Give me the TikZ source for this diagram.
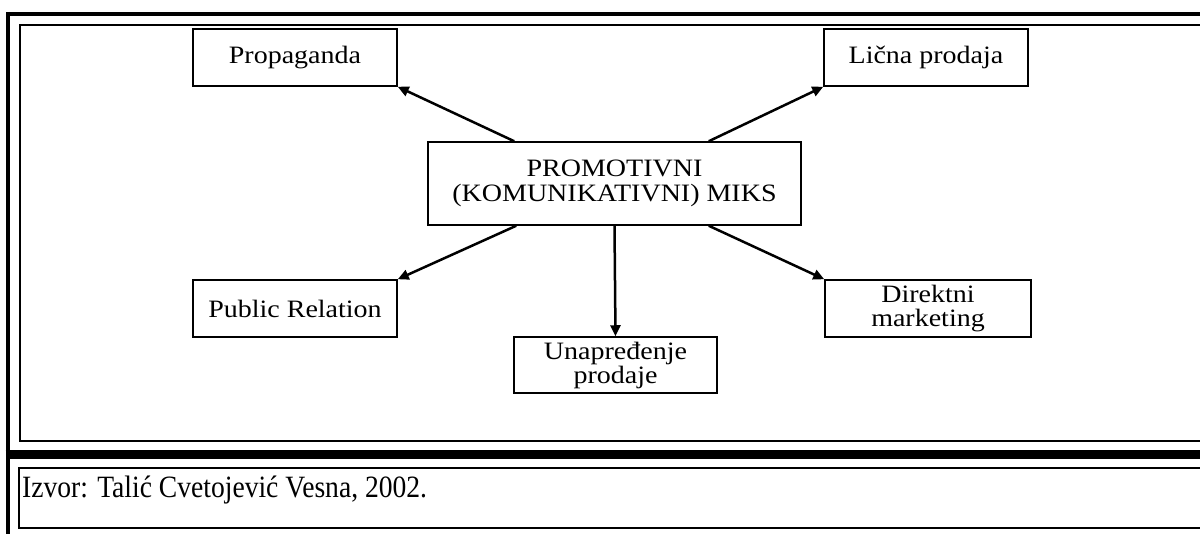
\documentclass[tikz,border=0pt]{standalone}
\usepackage{fontspec}
\setmainfont{Liberation Serif}
\newfontfamily\diagfont[FakeStretch=1.12]{Liberation Serif}
\newfontfamily\izvfont[FakeStretch=0.89]{Liberation Serif}
\usetikzlibrary{arrows.meta}
\begin{document}
\begin{tikzpicture}[x=1pt,y=-1pt,
  boxnode/.style={draw,line width=1.5pt,inner sep=0pt,align=center,
    font=\diagfont\fontsize{25}{24}\selectfont},
  arr/.style={line width=2.5pt,-{Triangle[length=11pt,width=10pt]}},
  thinframe/.style={line width=2pt},
  thickframe/.style={line width=4pt}]
\useasboundingbox (0,0) rectangle (1200,534);
% frame
\draw[thickframe] (6,14) -- (1201,14);
\draw[thickframe] (7.5,12) -- (7.5,535);
\draw[thinframe] (1201,25) -- (19.5,25) -- (19.5,441) -- (1201,441);
\draw[line width=9pt] (5.5,455) -- (1201,455);
\draw[thinframe] (1201,468) -- (19,468) -- (19,527.5) -- (1201,527.5);
% nodes
\node[boxnode,minimum width=204pt,minimum height=57pt] (prop) at (295,57.5) {Propaganda};
\node[boxnode,minimum width=204pt,minimum height=57pt] (licna) at (926,57.5) {Lična prodaja};
\node[boxnode,minimum width=373pt,minimum height=83pt,
  font=\diagfont\fontsize{25}{25}\selectfont] (c) at (614.5,183.5) {PROMOTIVNI\\(KOMUNIKATIVNI) MIKS};
\node[boxnode,minimum width=204pt,minimum height=57pt] (pr) at (295,308.5) {Public Relation};
\node[boxnode,minimum width=203pt,minimum height=56pt] (u) at (615.5,365) {Unapređenje\\prodaje};
\node[boxnode,minimum width=206pt,minimum height=57pt] (d) at (928,308.5) {Direktni\\marketing};
\node[anchor=base west,inner sep=0pt,font=\izvfont\fontsize{31}{34}\selectfont] (izvor) at (22,497) {Izvor: Talić Cvetojević Vesna, 2002.};
% connectors
\draw[arr] ([xshift=87pt]c.north west) -- (prop.south east);
\draw[arr] ([xshift=-93pt]c.north east) -- (licna.south west);
\draw[arr] ([xshift=89pt]c.south west) -- (pr.north east);
\draw[arr] (c.south) -- (u.north);
\draw[arr] ([xshift=-93pt]c.south east) -- (d.north west);
\end{tikzpicture}
\end{document}
